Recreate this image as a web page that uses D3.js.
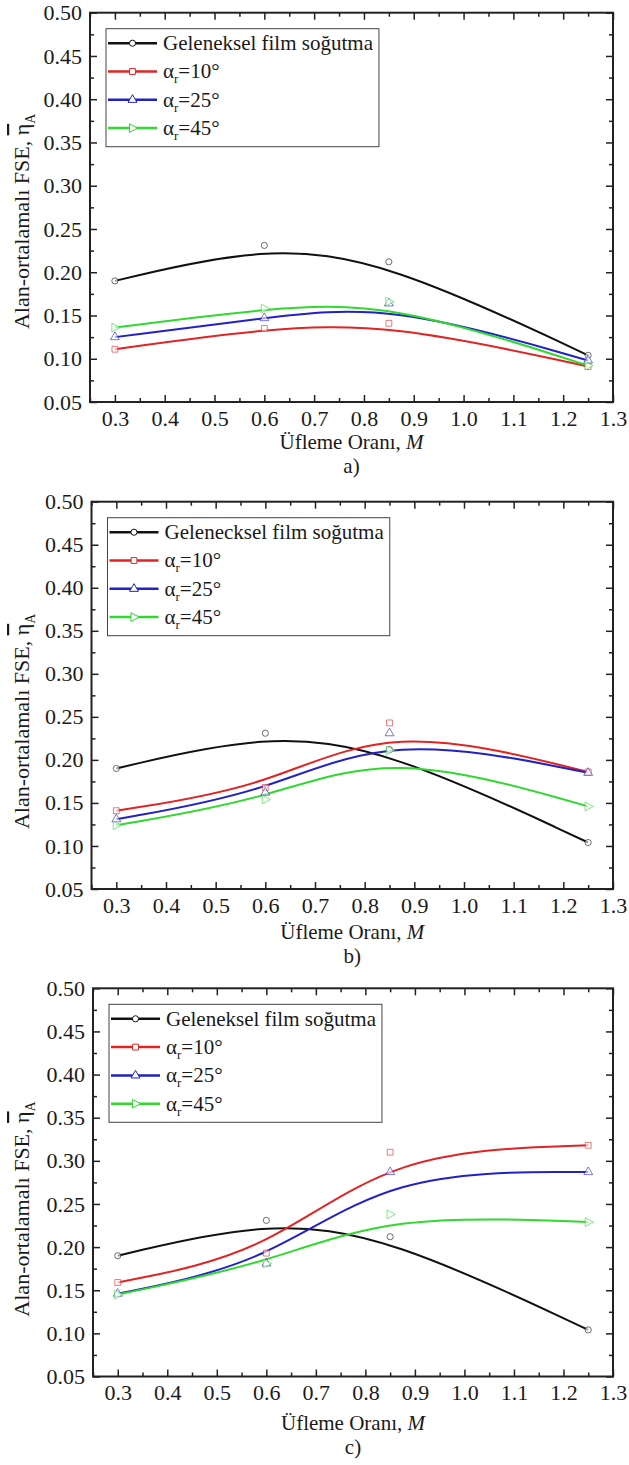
<!DOCTYPE html>
<html>
<head>
<meta charset="utf-8">
<script src="https://cdn.jsdelivr.net/npm/d3@7/dist/d3.min.js"></script>
<style>
  body { margin: 0; background: #fff; }
  svg { display: block; font-family: 'Liberation Serif', 'Times New Roman', serif; }
  .tick text { font-size: 22px; fill: #1a1a1a; font-family: 'Liberation Serif', serif; }
  .tick line { stroke: #222; stroke-width: 1.5; }
</style>
</head>
<body>
<svg width="629" height="1465"></svg>
<script>
// blowing ratios (x) shared by all three panels
const blowingRatio = [0.3, 0.6, 0.85, 1.25];

// conventional film cooling, same in every panel
const conventional = [0.190, 0.231, 0.212, 0.104];

// panel a)
const a10 = [0.111, 0.135, 0.141, 0.091];
const a25 = [0.125, 0.147, 0.164, 0.098];
const a45 = [0.136, 0.158, 0.166, 0.092];

// panel b)
const b10 = [0.141, 0.168, 0.243, 0.186];
const b25 = [0.131, 0.162, 0.231, 0.185];
const b45 = [0.124, 0.154, 0.211, 0.146];

// panel c)
const c10 = [0.159, 0.193, 0.310, 0.318];
const c25 = [0.146, 0.181, 0.287, 0.287];
const c45 = [0.145, 0.181, 0.238, 0.229];

const xTicks = [0.3, 0.4, 0.5, 0.6, 0.7, 0.8, 0.9, 1.0, 1.1, 1.2, 1.3];
const xMinorTicks = [0.25, 0.35, 0.45, 0.55, 0.65, 0.75, 0.85, 0.95, 1.05, 1.15, 1.25];
const yTicks = [0.05, 0.10, 0.15, 0.20, 0.25, 0.30, 0.35, 0.40, 0.45, 0.50];
const yMinorTicks = [0.075, 0.125, 0.175, 0.225, 0.275, 0.325, 0.375, 0.425, 0.475];

const angleLabels = ['10°', '25°', '45°'];
const captions = ['a)', 'b)', 'c)'];

const colors = ['#111111', '#e02424', '#2222c4', '#30d830'];

const svg = d3.select('svg');

// right-pointing triangle for the 45° series
const rightTri = { draw(ctx, size) { 
  const r = Math.sqrt(size / 1.3);
  ctx.moveTo(r, 0); ctx.lineTo(-r * 0.6, -r * 0.85); ctx.lineTo(-r * 0.6, r * 0.85); ctx.closePath();
}};
const symbols = [d3.symbolCircle, d3.symbolSquare, d3.symbolTriangle, rightTri];
const symbolSizes = [30, 34, 34, 34];

const panels = [
  { left: 90, right: 613, top: 12.7, bottom: 402, series: [conventional, a10, a25, a45],
    first: 'Geleneksel film soğutma', yLabelEnd: 101, titleDy: 47, capDy: 71 },
  { left: 91.5, right: 613, top: 501.7, bottom: 889, series: [conventional, b10, b25, b45],
    first: 'Gelenecksel film soğutma', yLabelEnd: 112, titleDy: 50, capDy: 74 },
  { left: 93, right: 613, top: 988.3, bottom: 1376.5, series: [conventional, c10, c25, c45],
    first: 'Geleneksel film soğutma', yLabelEnd: 113, titleDy: 54, capDy: 78 }
];

panels.forEach((p, pi) => {
  const innerWidth = p.right - p.left;
  const innerHeight = p.bottom - p.top;

  const xScale = d3.scaleLinear().domain([0.25, 1.3]).range([0, innerWidth]);
  const yScale = d3.scaleLinear().domain([0.05, 0.50]).range([innerHeight, 0]);

  const g = svg.append('g')
    .attr('transform', `translate(${p.left},${p.top})`);

  // axes, ticks pointing inwards like Origin
  g.append('g')
    .attr('transform', `translate(0,${innerHeight})`)
    .call(d3.axisBottom(xScale).tickValues(xTicks).tickSize(-7).tickPadding(8).tickFormat(d3.format('.1f')));
  g.append('g').attr('transform', `translate(0,${innerHeight})`)
    .call(d3.axisBottom(xScale).tickValues(xMinorTicks).tickSize(-4).tickFormat(''));
  g.append('g').call(d3.axisTop(xScale).tickValues(xTicks).tickSize(-7).tickFormat(''));
  g.append('g').call(d3.axisTop(xScale).tickValues(xMinorTicks).tickSize(-4).tickFormat(''));

  g.append('g')
    .call(d3.axisLeft(yScale).tickValues(yTicks).tickSize(-7).tickPadding(8).tickFormat(d3.format('.2f')));
  g.append('g').call(d3.axisLeft(yScale).tickValues(yMinorTicks).tickSize(-4).tickFormat(''));
  g.append('g').attr('transform', `translate(${innerWidth},0)`)
    .call(d3.axisRight(yScale).tickValues(yTicks).tickSize(-7).tickFormat(''));
  g.append('g').attr('transform', `translate(${innerWidth},0)`)
    .call(d3.axisRight(yScale).tickValues(yMinorTicks).tickSize(-4).tickFormat(''));

  g.selectAll('.domain').remove();

  g.append('rect')
    .attr('width', innerWidth)
    .attr('height', innerHeight)
    .attr('fill', 'none')
    .attr('stroke', '#222')
    .attr('stroke-width', 2);

  // smoothed curves (B-spline like Origin)
  const lineGenerator = d3.line()
    .x((d, i) => xScale(blowingRatio[i]))
    .y(d => yScale(d))
    .curve(d3.curveBasis);

  p.series.forEach((s, si) => {
    g.append('path')
      .attr('d', lineGenerator(s))
      .attr('fill', 'none')
      .attr('stroke', colors[si])
      .attr('stroke-width', 2);
  });

  p.series.forEach((s, si) => {
    g.selectAll(null).data(s).enter().append('path')
      .attr('transform', (d, i) => `translate(${xScale(blowingRatio[i])},${yScale(d)})`)
      .attr('d', d3.symbol().type(symbols[si]).size(symbolSizes[si]))
      .attr('fill', 'white')
      .attr('fill-opacity', 0.6)
      .attr('stroke', colors[si])
      .attr('stroke-opacity', 0.6)
      .attr('stroke-width', 1);
  });

  // legend
  const legend = g.append('g').attr('transform', 'translate(16,16)');
  const box = legend.append('rect')
    .attr('height', 118)
    .attr('fill', 'white')
    .attr('stroke', '#444')
    .attr('stroke-width', 1);
  let maxW = 0;
  p.series.forEach((s, si) => {
    const cy = 14.5 + si * 28.3;
    const row = legend.append('g');
    row.append('line')
      .attr('x1', 2).attr('x2', 51)
      .attr('y1', cy).attr('y2', cy)
      .attr('stroke', colors[si])
      .attr('stroke-width', 2.5);
    row.append('path')
      .attr('transform', `translate(26.5,${cy})`)
      .attr('d', d3.symbol().type(symbols[si]).size(symbolSizes[si]))
      .attr('fill', 'white')
      .attr('stroke', colors[si])
      .attr('stroke-width', 1);
    const t = row.append('text')
      .attr('x', 57)
      .attr('y', cy + 7)
      .attr('font-size', 21)
      .attr('fill', '#1a1a1a');
    if (si === 0) {
      t.text(p.first);
    } else {
      t.append('tspan').text('α');
      t.append('tspan').attr('font-size', 13).attr('dy', 5).text('r');
      t.append('tspan').attr('dy', -5).text('=' + angleLabels[si - 1]);
    }
    maxW = Math.max(maxW, t.node().getComputedTextLength());
  });
  box.attr('width', 57 + maxW + 6);

  // axis titles
  const xt = g.append('text')
    .attr('x', innerWidth / 2)
    .attr('y', innerHeight + p.titleDy)
    .attr('text-anchor', 'middle')
    .attr('font-size', 21)
    .attr('fill', '#1a1a1a');
  xt.append('tspan').text('Üfleme Oranı, ');
  xt.append('tspan').attr('font-style', 'italic').text('M');

  g.append('text')
    .attr('x', innerWidth / 2)
    .attr('y', innerHeight + p.capDy)
    .attr('text-anchor', 'middle')
    .attr('font-size', 21)
    .attr('fill', '#1a1a1a')
    .text(captions[pi]);

  const yt = svg.append('text')
    .attr('transform', `translate(29,${p.top + p.yLabelEnd}) rotate(-90)`)
    .attr('text-anchor', 'end')
    .attr('font-size', 22)
    .attr('fill', '#1a1a1a');
  yt.append('tspan').text('Alan-ortalamalı FSE, ');
  yt.append('tspan').style('text-decoration', 'overline').text('η');
  yt.append('tspan').attr('font-size', 14).attr('dy', 6).text('A');
});
</script>
</body>
</html>
